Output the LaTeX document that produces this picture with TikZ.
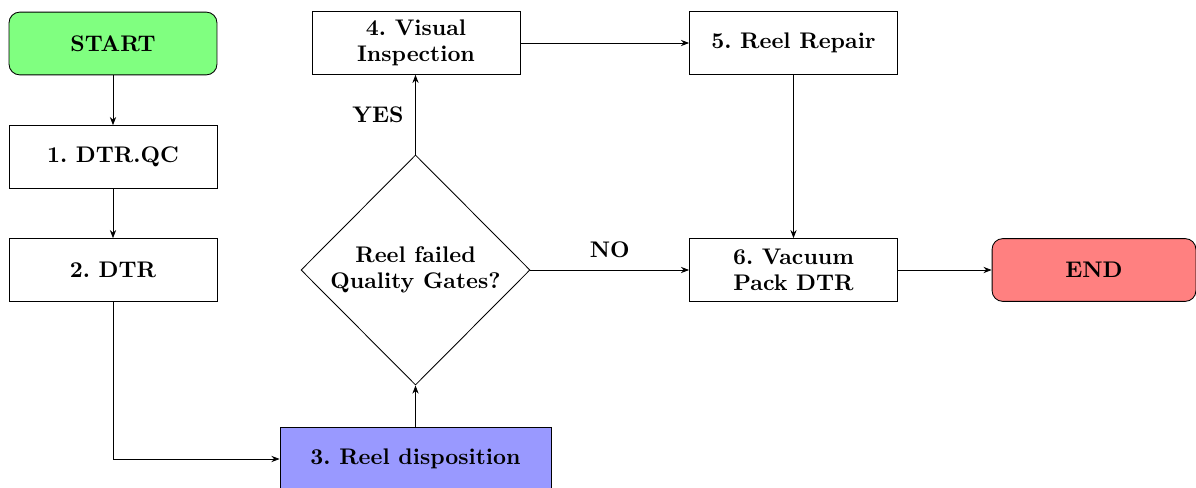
\documentclass[tikz,border=0pt]{standalone}
\usetikzlibrary{shapes.geometric,arrows.meta}
\begin{document}
\frenchspacing
\begin{tikzpicture}[x=0.465pt,y=-0.465pt,
  every node/.style={font=\fontsize{10.5}{12.2}\selectfont\bfseries},
  procbox/.style={draw,rectangle,minimum width=96.7pt,minimum height=29.2pt,align=center,inner sep=2pt},
  termbox/.style={draw,rectangle,rounded corners=5pt,minimum width=96.7pt,minimum height=29.2pt,align=center},
  decbox/.style={draw,diamond,aspect=1,minimum width=106.5pt,minimum height=107pt,inner sep=0pt,align=center},
  arr/.style={-{Stealth[length=3.8pt,width=2.9pt]},thin}]
\useasboundingbox (0,0) rectangle (1196,488);
\node[termbox,fill=green!50] (start) at (113,43.5) {START};
\node[procbox] (qc) at (113,157) {1. DTR.QC};
\node[procbox] (dtr) at (113,270) {2. DTR};
\node[procbox,fill=blue!40,minimum width=126pt] (disp) at (415.5,459) {3. Reel disposition};
\node[decbox] (dec) at (415.5,270) {Reel failed\\Quality Gates?};
\node[procbox] (vis) at (416,43) {4. Visual\\Inspection};
\node[procbox] (rep) at (793.5,43) {5. Reel Repair};
\node[procbox] (vac) at (793.5,270) {6. Vacuum\\Pack DTR};
\node[termbox,fill=red!50,minimum width=94.8pt] (end) at (1094,270) {END};
\draw[arr] (start) -- (qc);
\draw[arr] (qc) -- (dtr);
\draw[arr] (dtr.south) |- (disp.west);
\draw[arr] (disp) -- (dec);
\draw[arr] (dec) -- node[left,xshift=-2pt] {YES} (vis.south -| dec.north);
\draw[arr] (dec) -- node[above,yshift=2pt] {NO} (vac);
\draw[arr] (vis) -- (rep);
\draw[arr] (rep) -- (vac);
\draw[arr] (vac) -- (end);
\end{tikzpicture}
\end{document}
